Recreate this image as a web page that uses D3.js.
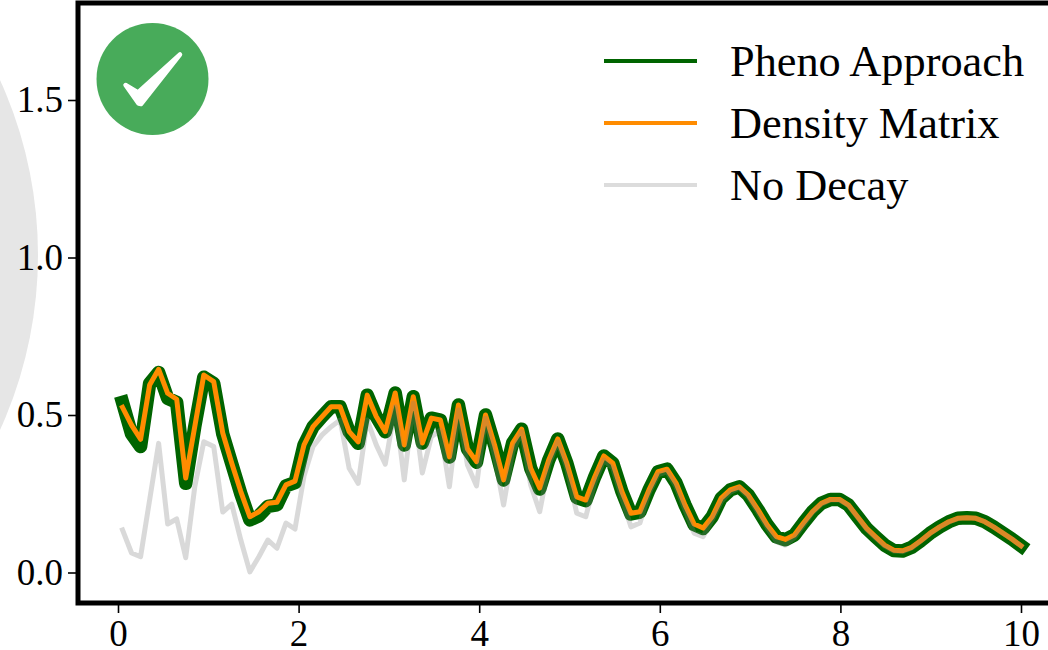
<!DOCTYPE html>
<html>
<head>
<meta charset="utf-8">
<script src="https://cdnjs.cloudflare.com/ajax/libs/d3/7.8.5/d3.min.js"></script>
<style>
  html, body { margin: 0; padding: 0; background: #fff; overflow: hidden; }
  text { font-family: "Liberation Serif", serif; fill: #000; }
</style>
</head>
<body>
<svg id="chart" width="1048" height="650"></svg>
<script>
const time = [0.05,0.15,0.25,0.35,0.45,0.55,0.65,0.75,0.85,0.95,
  1.06,1.16,1.26,1.36,1.46,1.56,1.66,1.76,1.86,1.96,
  2.06,2.16,2.26,2.36,2.46,2.56,2.66,2.76,2.86,2.96,
  3.07,3.17,3.27,3.37,3.47,3.57,3.67,3.77,3.87,3.97,
  4.07,4.17,4.27,4.37,4.47,4.57,4.67,4.77,4.87,4.97,
  5.08,5.18,5.28,5.38,5.48,5.58,5.68,5.78,5.88,5.98,
  6.08,6.18,6.28,6.38,6.48,6.58,6.68,6.78,6.88,6.98,
  7.09,7.19,7.29,7.39,7.49,7.59,7.69,7.79,7.89,7.99,
  8.09,8.19,8.29,8.39,8.49,8.59,8.69,8.79,8.89,8.99,
  9.1,9.2,9.3,9.4,9.5,9.6,9.7,9.8,9.9,10.0];

const density = [0.524,0.468,0.423,0.595,0.645,0.569,0.55,0.30,0.463,0.627,
  0.606,0.443,0.347,0.257,0.177,0.193,0.22,0.223,0.278,0.29,
  0.405,0.463,0.495,0.526,0.526,0.447,0.415,0.563,0.495,0.447,
  0.57,0.405,0.558,0.411,0.49,0.484,0.367,0.532,0.392,0.352,
  0.50,0.405,0.294,0.411,0.455,0.331,0.268,0.357,0.424,0.347,
  0.24,0.23,0.304,0.37,0.347,0.257,0.188,0.193,0.262,0.32,
  0.328,0.284,0.214,0.154,0.141,0.177,0.236,0.262,0.272,0.246,
  0.198,0.151,0.114,0.105,0.119,0.157,0.193,0.22,0.232,0.232,
  0.214,0.177,0.14,0.113,0.087,0.071,0.069,0.08,0.101,0.124,
  0.145,0.161,0.172,0.174,0.172,0.161,0.144,0.125,0.106,0.085];

const pheno = [0.54,0.44,0.40,0.60,0.635,0.553,0.54,0.283,0.463,0.62,
  0.60,0.44,0.345,0.25,0.167,0.18,0.21,0.215,0.275,0.285,
  0.405,0.463,0.495,0.526,0.526,0.447,0.41,0.563,0.495,0.447,
  0.57,0.405,0.558,0.411,0.49,0.484,0.367,0.532,0.392,0.35,
  0.50,0.405,0.294,0.411,0.455,0.331,0.265,0.357,0.424,0.347,
  0.238,0.228,0.304,0.37,0.347,0.257,0.186,0.192,0.262,0.32,
  0.328,0.284,0.214,0.152,0.14,0.177,0.236,0.262,0.272,0.246,
  0.198,0.151,0.113,0.104,0.119,0.157,0.193,0.22,0.232,0.232,
  0.214,0.177,0.14,0.113,0.087,0.07,0.068,0.08,0.101,0.124,
  0.145,0.161,0.172,0.174,0.172,0.161,0.144,0.125,0.106,0.085];

const noDecay = [0.135,0.062,0.05,0.23,0.41,0.154,0.17,0.047,0.272,0.415,
  0.40,0.192,0.217,0.103,0.002,0.05,0.103,0.077,0.157,0.138,
  0.306,0.40,0.437,0.463,0.484,0.331,0.283,0.484,0.405,0.344,
  0.526,0.294,0.538,0.316,0.431,0.452,0.272,0.516,0.341,0.275,
  0.49,0.37,0.214,0.383,0.447,0.278,0.193,0.341,0.415,0.331,
  0.188,0.177,0.285,0.357,0.331,0.236,0.145,0.157,0.252,0.31,
  0.32,0.272,0.198,0.125,0.114,0.167,0.225,0.255,0.268,0.24,
  0.19,0.142,0.098,0.087,0.11,0.15,0.19,0.217,0.23,0.23,
  0.212,0.175,0.137,0.11,0.084,0.068,0.066,0.078,0.1,0.123,
  0.144,0.16,0.171,0.174,0.172,0.161,0.144,0.125,0.106,0.085];

const xTicks = [0, 2, 4, 6, 8, 10];
const yTicks = [0, 0.5, 1, 1.5];
const legendLabels = ["Pheno Approach", "Density Matrix", "No Decay"];
const legendColors = ["#006400", "#ff8c00", "#dcdcdc"];

const svg = d3.select("#chart");

const frame = { left: 78, right: 1052, top: 3, bottom: 603 };

const x = d3.scaleLinear().domain([0, 10]).range([118, 1021]);
const y = d3.scaleLinear().domain([0, 1.5]).range([572.5, 100]);

// grey disc behind the left edge of the figure
svg.append("circle")
    .attr("cx", -384)
    .attr("cy", 255)
    .attr("r", 422)
    .attr("fill", "#e6e6e6");

svg.append("rect")
    .attr("x", frame.left)
    .attr("y", frame.top)
    .attr("width", frame.right - frame.left)
    .attr("height", frame.bottom - frame.top)
    .attr("fill", "#fff");

const line = d3.line()
    .x((d, i) => x(time[i]))
    .y(d => y(d));

function drawSeries(values, color, width, opacity) {
  svg.append("path")
      .datum(values)
      .attr("d", line)
      .attr("fill", "none")
      .attr("stroke", color)
      .attr("stroke-width", width)
      .attr("stroke-opacity", opacity)
      .attr("stroke-linejoin", "round")
      .attr("stroke-linecap", "square");
}

drawSeries(pheno, "#006400", 13.5, 1);
drawSeries(density, "#ff8c00", 5, 1);
drawSeries(noDecay, "#808080", 5, 0.3);

// axes
const xAxis = d3.axisBottom(x)
    .tickValues(xTicks)
    .tickFormat(d3.format("d"))
    .tickSize(10)
    .tickPadding(6.7)
    .tickSizeOuter(0);

const yAxis = d3.axisLeft(y)
    .tickValues(yTicks)
    .tickFormat(d3.format(".1f"))
    .tickSize(10)
    .tickPadding(5)
    .tickSizeOuter(0);

const gx = svg.append("g").attr("transform", `translate(0,${frame.bottom})`).call(xAxis);
const gy = svg.append("g").attr("transform", `translate(${frame.left},0)`).call(yAxis);

[gx, gy].forEach(g => {
  g.select(".domain").remove();
  g.selectAll(".tick line").attr("stroke", "#000").attr("stroke-width", 1.6);
  g.selectAll(".tick text").attr("font-size", 37);
});

// spines
svg.append("path")
    .attr("d", `M${frame.left},${frame.bottom}V${frame.top}H${frame.right}M${frame.left},${frame.bottom}H${frame.right}`)
    .attr("fill", "none")
    .attr("stroke", "#000")
    .attr("stroke-width", 5)
    .attr("stroke-linecap", "square");

// legend
const legend = svg.append("g");
const legendY = d3.scalePoint().domain(legendLabels).range([61, 185]);

legendLabels.forEach((label, i) => {
  legend.append("line")
      .attr("x1", 604)
      .attr("x2", 697)
      .attr("y1", legendY(label))
      .attr("y2", legendY(label))
      .attr("stroke", legendColors[i])
      .attr("stroke-width", 4);
  legend.append("text")
      .attr("x", 730)
      .attr("y", legendY(label) + 15)
      .attr("font-size", 44.3)
      .text(label);
});

// check badge
const badge = svg.append("g");
badge.append("circle")
    .attr("cx", 152.5)
    .attr("cy", 79)
    .attr("r", 56)
    .attr("fill", "#48ab5a");
badge.append("path")
    .attr("d", "M125.5,85 L138,92.5 L180,54.5 L141,104 L138.5,103.5 Z")
    .attr("fill", "#fff")
    .attr("stroke", "#fff")
    .attr("stroke-width", 4.5)
    .attr("stroke-linejoin", "round");
</script>
</body>
</html>
